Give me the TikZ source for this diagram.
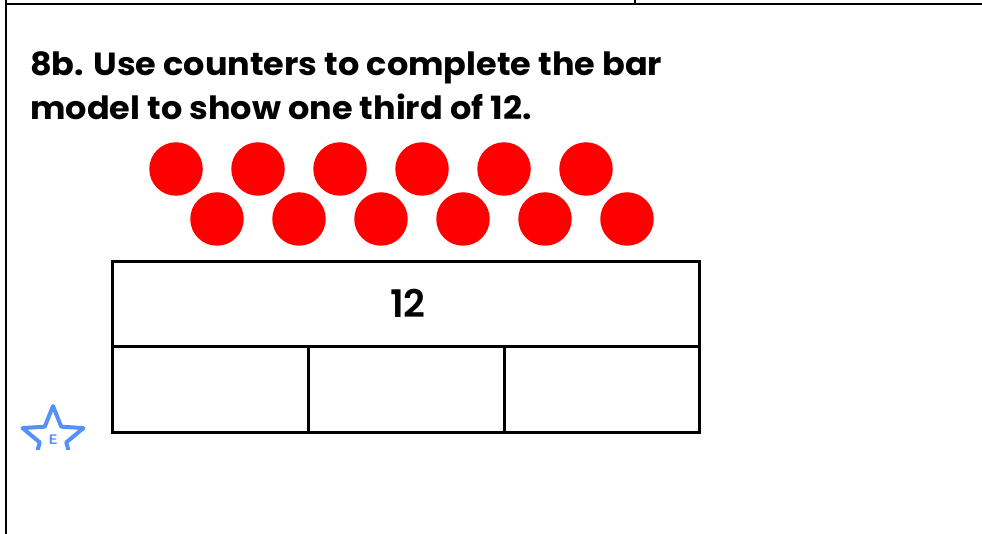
\documentclass[tikz,border=0pt]{standalone}
\usepackage{fontspec}
\setmainfont{Poppins}
\newfontfamily\titlefont{Poppins}[UprightFont=* Bold, FakeStretch=1.047]
\newfontfamily\numfont{Poppins}[UprightFont=* SemiBold]
\definecolor{counterred}{RGB}{255,0,0}
\definecolor{starblue}{RGB}{85,145,250}
\begin{document}
\begin{tikzpicture}[x=1pt,y=-1pt,
  frame/.style={line width=2pt, black},
  barline/.style={line width=3pt, black, line cap=rect},
  counter/.style={circle, fill=counterred, minimum size=53.5pt, inner sep=0pt},
  title/.style={anchor=base west, inner sep=0pt, font=\titlefont\fontsize{32}{32}\selectfont},
  startext/.style={text=starblue, font=\sffamily\bfseries\fontsize{14}{14}\selectfont, inner sep=0pt}]
\useasboundingbox (0,0) rectangle (982,534);
\fill[white] (0,0) rectangle (982,534);
% frame lines
\coordinate (ftl) at (6,0);
\coordinate (fbl) at (6,534);
\coordinate (htl) at (6,4);
\coordinate (htr) at (982,4);
\coordinate (vt) at (635,0);
\coordinate (vb) at (635,4);
\draw[frame] (ftl) -- (fbl);
\draw[frame] (htl) -- (htr);
\draw[frame] (vt) -- (vb);
% title
\node[title] (t1) at (30,76) {8b. Use counters to complete the bar};
\node[title] (t2) at (30,120) {model to show one third of 12.};
% counters
\foreach \i/\x in {1/176,2/258,3/340,4/422,5/504,6/586}
  \node[counter] (ct\i) at (\x,169) {};
\foreach \i/\x in {1/217,2/299,3/381,4/463,5/545,6/627}
  \node[counter] (cb\i) at (\x,219) {};
% bar model
\coordinate (b1) at (112,261.5);
\coordinate (b2) at (699,261.5);
\coordinate (b3) at (699,432);
\coordinate (b4) at (112,432);
\coordinate (m1) at (112,347);
\coordinate (m2) at (699,347);
\coordinate (d1t) at (308,347);
\coordinate (d1b) at (308,432);
\coordinate (d2t) at (504,347);
\coordinate (d2b) at (504,432);
\draw[barline] (b1) -- (b2) -- (b3) -- (b4) -- cycle;
\draw[barline] (m1) -- (m2);
\draw[barline] (d1t) -- (d1b);
\draw[barline] (d2t) -- (d2b);
\node[font=\numfont\fontsize{38}{38}\selectfont, inner sep=0pt] (twelve) at (408,303) {12};
% star
\begin{scope}[shift={(53,438)}, yscale=-1]
  \clip (-40,-11.5) rectangle (40,40);
  \draw[starblue, line width=4pt, line join=round]
    (90:32) -- (126:14) -- (162:32) -- (198:14) -- (234:32) -- (270:14)
    -- (306:32) -- (342:14) -- (18:32) -- (54:14) -- cycle;
\end{scope}
\node[startext] (e) at (53,440) {E};
\end{tikzpicture}
\end{document}
